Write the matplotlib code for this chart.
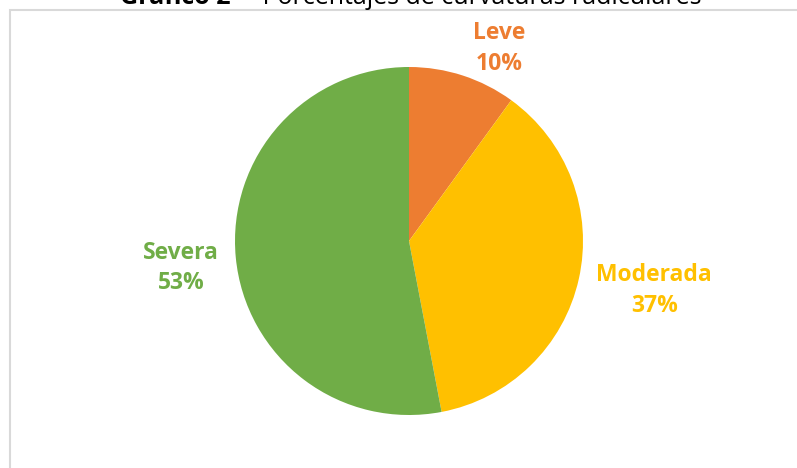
import matplotlib.pyplot as plt
from matplotlib.patches import Rectangle

# Data
categories = ["Leve", "Moderada", "Severa"]
percentages = [10, 37, 53]
colors = ["#ED7D31", "#FFC000", "#70AD47"]

plt.rcParams["font.family"] = ["Open Sans", "DejaVu Sans"]

W, H = 797, 468
fig = plt.figure(figsize=(W / 100, H / 100), dpi=100)

# Chart border (light gray frame, cut off at right and bottom)
fig.patches.append(Rectangle((9.5 / W, -0.1), 1.1, (H - 10) / H + 0.1,
                             transform=fig.transFigure, fill=False,
                             edgecolor="#D9D9D9", linewidth=1.5))

# Title, partly cut off at the top
fig.text(231 / W, 1 - 4.5 / H, "Gráfico 2", ha="right", va="baseline",
         fontsize=18, fontweight="bold", color="#000000")
fig.text(237 / W, 1 - 4.5 / H, "–  Porcentajes de curvaturas radiculares",
         ha="left", va="baseline", fontsize=18, color="#000000")

# Pie axes
cx, cy, r = 409, H - 241, 174
ax = fig.add_axes([(cx - r) / W, (cy - r) / H, 2 * r / W, 2 * r / H])
ax.pie(percentages, colors=colors, startangle=90, counterclock=False,
       radius=1, wedgeprops=dict(linewidth=0))
ax.set_xlim(-1, 1)
ax.set_ylim(-1, 1)
ax.set_aspect("equal")
ax.axis("off")

# Data labels
label_pos = [(0.52, 1.105), (1.41, -0.285), (-1.31, -0.155)]
for cat, p, c, (x, y) in zip(categories, percentages, colors, label_pos):
    ax.text(x, y, f"{cat}\n{p}%", ha="center", va="center", color=c,
            fontsize=16.5, fontweight="bold", linespacing=1.36, clip_on=False)

fig.savefig("out.png", dpi=100)
